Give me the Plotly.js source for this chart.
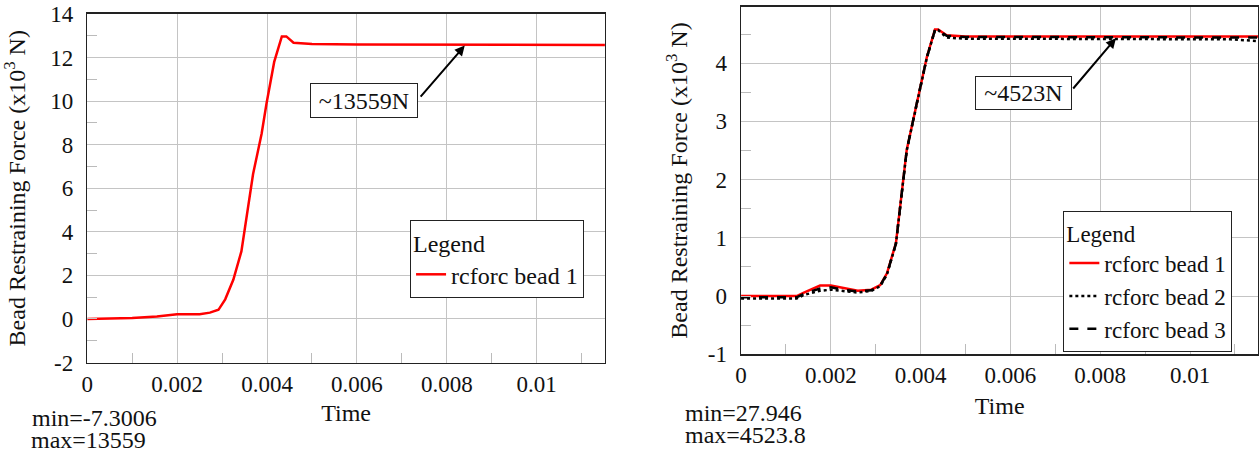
<!DOCTYPE html>
<html>
<head>
<meta charset="utf-8">
<script src="https://cdn.plot.ly/plotly-3.0.1.min.js"></script>
<style>html,body{margin:0;padding:0;background:#fff;}#chart{width:1259px;height:454px;}</style>
</head>
<body>
<div id="chart"></div>
<script>
// ---- Data (time in s, force in x10^3 N) ----
const timeBead1Left = [0, 0.001, 0.00155, 0.002, 0.0025, 0.00273, 0.00292, 0.00307, 0.00325, 0.00343, 0.00369, 0.00388, 0.00399, 0.00416, 0.00433, 0.00443, 0.00459, 0.005, 0.006, 0.008, 0.01, 0.01152];
const forceBead1Left = [0, 0.04, 0.11, 0.21, 0.22, 0.29, 0.42, 0.9, 1.8, 3.1, 6.65, 8.5, 9.9, 11.8, 12.97, 12.97, 12.68, 12.62, 12.6, 12.6, 12.59, 12.58];

const timeRight = [0, 0.00124, 0.0014, 0.00176, 0.002, 0.00235, 0.0026, 0.0029, 0.0031, 0.00325, 0.00345, 0.00369, 0.00391, 0.00414, 0.00432, 0.00439, 0.00458, 0.005, 0.006, 0.008, 0.0109, 0.01152];
const forceBead1Right = [0, 0, 0.06, 0.18, 0.18, 0.12, 0.09, 0.11, 0.19, 0.39, 0.91, 2.51, 3.31, 4.11, 4.58, 4.58, 4.48, 4.46, 4.46, 4.46, 4.46, 4.46];
const forceBead2Right = [-0.04, -0.04, 0.02, 0.09, 0.11, 0.08, 0.06, 0.09, 0.17, 0.37, 0.9, 2.5, 3.3, 4.1, 4.57, 4.57, 4.44, 4.42, 4.42, 4.42, 4.41, 4.38];
const forceBead3Right = [-0.02, -0.02, 0.04, 0.13, 0.15, 0.1, 0.08, 0.1, 0.18, 0.38, 0.9, 2.5, 3.3, 4.1, 4.57, 4.57, 4.47, 4.45, 4.45, 4.45, 4.45, 4.44];

const seriesNames = ["rcforc bead 1", "rcforc bead 2", "rcforc bead 3"];

const xTickVals = [0, 0.002, 0.004, 0.006, 0.008, 0.01];
const xTickText = ["0", "0.002", "0.004", "0.006", "0.008", "0.01"];
const yTickValsLeft = [-2, 0, 2, 4, 6, 8, 10, 12, 14];
const yTickTextLeft = ["-2", "0", "2", "4", "6", "8", "10", "12", "14"];
const yTickValsRight = [-1, 0, 1, 2, 3, 4];
const yTickTextRight = ["-1", "0", "1", "2", "3", "4"];

const annotLeftText = "~13559N";
const annotRightText = "~4523N";
const statsLeft = ["min=-7.3006", "max=13559"];
const statsRight = ["min=27.946", "max=4523.8"];

// ---- Styling ----
const FONT = "Liberation Serif";
const GRID = "#c4c4c4";
const TICKF = {family: FONT, size: 23, color: "#111"};
const TXT = {family: FONT, size: 24, color: "#111"};

function xAxis(domain, anchor, standoff) {
  return {
    domain: domain, anchor: anchor, range: [0, 0.01152],
    tickmode: "array", tickvals: xTickVals, ticktext: xTickText,
    showgrid: true, gridcolor: GRID, gridwidth: 1,
    zeroline: false, showline: true, linecolor: "#222", linewidth: 1.5, mirror: true,
    ticks: "inside", ticklen: 10, tickcolor: GRID,
    minor: {dtick: 0.001, ticks: "inside", ticklen: 10, tickcolor: "#bbbbbb", showgrid: false},
    tickfont: TICKF,
    title: {text: "Time", font: TXT, standoff: standoff},
    fixedrange: true
  };
}
function yAxis(domain, anchor, range, vals, text, minorDt, standoff) {
  return {
    domain: domain, anchor: anchor, range: range,
    tickmode: "array", tickvals: vals, ticktext: text,
    showgrid: true, gridcolor: GRID, gridwidth: 1,
    zeroline: false, showline: true, linecolor: "#222", linewidth: 1.5, mirror: true,
    ticks: "inside", ticklen: 10, tickcolor: GRID,
    minor: {dtick: minorDt, ticks: "inside", ticklen: 10, tickcolor: "#bbbbbb", showgrid: false},
    tickfont: TICKF,
    ticklabelstandoff: 8,
    title: {text: "Bead Restraining Force (x10<sup>3</sup> N)", font: TXT, standoff: standoff},
    fixedrange: true
  };
}

const traces = [
  {x: timeBead1Left, y: forceBead1Left, name: seriesNames[0], type: "scatter", mode: "lines",
   line: {color: "#ff0000", width: 2.5}, xaxis: "x", yaxis: "y", legend: "legend"},
  {x: timeRight, y: forceBead1Right, name: seriesNames[0], type: "scatter", mode: "lines",
   line: {color: "#ff0000", width: 2.5}, xaxis: "x2", yaxis: "y2", legend: "legend2"},
  {x: timeRight, y: forceBead2Right, name: seriesNames[1], type: "scatter", mode: "lines",
   line: {color: "#000000", width: 2.5, dash: "dot"}, xaxis: "x2", yaxis: "y2", legend: "legend2"},
  {x: timeRight, y: forceBead3Right, name: seriesNames[2], type: "scatter", mode: "lines",
   line: {color: "#000000", width: 2.5, dash: "dash"}, xaxis: "x2", yaxis: "y2", legend: "legend2"}
];

function legendStyle(size) {
  const f = {family: FONT, size: size, color: "#111"};
  return {
    font: f,
    title: {text: "Legend", font: f, side: "top"},
    bordercolor: "#222", borderwidth: 1, bgcolor: "#fff",
    xanchor: "left", yanchor: "top", itemwidth: 30, tracegroupgap: 0
  };
}

const layout = {
  width: 1259, height: 454,
  margin: {l: 0, r: 0, t: 0, b: 0},
  paper_bgcolor: "#fff", plot_bgcolor: "#fff",
  font: TXT,
  xaxis: xAxis([0.0693, 0.4805], "y", 8),
  yaxis: yAxis([0.2015, 0.9692], "x", [-2, 14], yTickValsLeft, yTickTextLeft, 1, 18),
  xaxis2: xAxis([0.5886, 0.9994], "y2", 10),
  yaxis2: yAxis([0.2196, 0.9852], "x2", [-1, 4.97], yTickValsRight, yTickTextRight, 0.5, 13),
  legend: Object.assign({x: 0.3257, y: 0.5154}, legendStyle(24)),
  legend2: Object.assign({x: 0.8446, y: 0.5360}, legendStyle(23)),
  showlegend: true,
  annotations: [
    // arrows
    {xref: "x", yref: "y", x: 0.0084, y: 12.55, axref: "x", ayref: "y", ax: 0.00739, ay: 10.14,
     text: "", showarrow: true, arrowhead: 2, arrowsize: 1, arrowwidth: 2, arrowcolor: "#000"},
    {xref: "x2", yref: "y2", x: 0.00835, y: 4.43, axref: "x2", ayref: "y2", ax: 0.00737, ay: 3.54,
     text: "", showarrow: true, arrowhead: 2, arrowsize: 1, arrowwidth: 2, arrowcolor: "#000"},
    // boxed labels
    {xref: "x", yref: "y", x: 0.00616, y: 10.05, text: annotLeftText, showarrow: false,
     font: TXT, bordercolor: "#222", borderwidth: 1, borderpad: 0, width: 106, height: 33, bgcolor: "#fff"},
    {xref: "x2", yref: "y2", x: 0.0063, y: 3.495, text: annotRightText, showarrow: false,
     font: TXT, bordercolor: "#222", borderwidth: 1, borderpad: 0, width: 95, height: 32, bgcolor: "#fff"},
    // min / max stats
    {xref: "paper", yref: "paper", x: 30/1259, y: 1-418/454, xanchor: "left", yanchor: "middle", text: statsLeft[0], showarrow: false, font: TXT},
    {xref: "paper", yref: "paper", x: 30/1259, y: 0, xanchor: "left", yanchor: "bottom", text: statsLeft[1], showarrow: false, font: TXT, borderpad: 0},
    {xref: "paper", yref: "paper", x: 683/1259, y: 1-413/454, xanchor: "left", yanchor: "middle", text: statsRight[0], showarrow: false, font: TXT},
    {xref: "paper", yref: "paper", x: 683/1259, y: 1-435/454, xanchor: "left", yanchor: "middle", text: statsRight[1], showarrow: false, font: TXT}
  ]
};

Plotly.newPlot("chart", traces, layout, {staticPlot: true, displayModeBar: false});
</script>
</body>
</html>
